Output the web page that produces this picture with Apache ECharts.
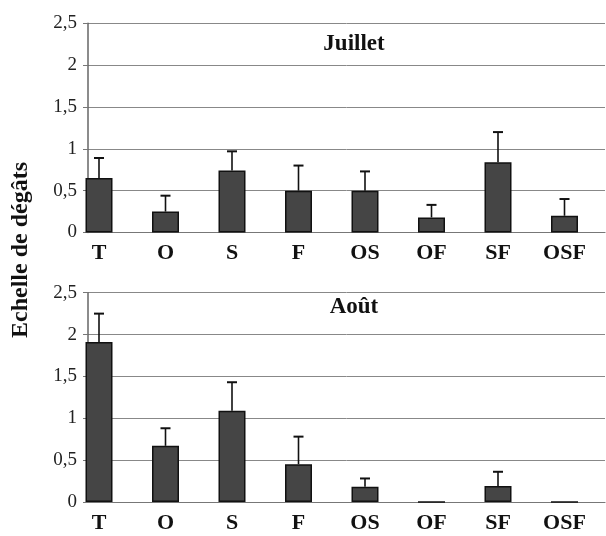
<!DOCTYPE html>
<html><head><meta charset="utf-8">
<script src="https://cdn.jsdelivr.net/npm/echarts@6/dist/echarts.min.js"></script>
<style>html,body{margin:0;padding:0;background:#fff}#c{width:606px;height:536px}</style>
</head><body><div id="c"></div>
<script>
const categories = ['T','O','S','F','OS','OF','SF','OSF'];
const julyMeans = [0.65, 0.25, 0.74, 0.50, 0.50, 0.18, 0.84, 0.20];
const julyUpper = [0.89, 0.44, 0.97, 0.80, 0.73, 0.33, 1.20, 0.40];
const augMeans  = [1.91, 0.67, 1.09, 0.45, 0.18, 0, 0.19, 0];
const augUpper  = [2.25, 0.88, 1.43, 0.78, 0.28, 0, 0.36, 0];
const panelTitles = ['Juillet', 'Août'];
const yName = 'Echelle de dégâts';

const serif = '"Liberation Serif", "Times New Roman", serif';
const chart = echarts.init(document.getElementById('c'));

const panels = [
  {top: 23.3, means: julyMeans, upper: julyUpper, titleY: 42},
  {top: 292.7, means: augMeans, upper: augUpper, titleY: 305}
];
const H = 209.2;
const grids = [], xAxes = [], yAxes = [], series = [], titles = [];
panels.forEach((p, k) => {
  grids.push({left: 88, right: 1, top: p.top, height: H});
  grids.push({left: 65.75, right: 8.25, top: p.top, height: H});
  const gf = 2*k, gb = 2*k+1;
  xAxes.push({gridIndex: gf, type: 'value', min: 0, max: 1, show: true,
    axisLine: {show: true, lineStyle: {color: '#777', width: 1.2}},
    axisTick: {show: false}, axisLabel: {show: false}, splitLine: {show: false}});
  xAxes.push({gridIndex: gb, type: 'category', data: categories, boundaryGap: true,
    axisLine: {show: false}, axisTick: {show: false},
    axisLabel: {margin: 10, fontFamily: serif, fontWeight: 'bold', fontSize: 22, color: '#111'}});
  yAxes.push({gridIndex: gf, type: 'value', min: 0, max: 2.5, interval: 0.5,
    axisLine: {show: true, lineStyle: {color: '#666', width: 1.5}},
    axisTick: {show: true, inside: false, length: 5, lineStyle: {color: '#777'}},
    axisLabel: {margin: 11, fontFamily: serif, fontSize: 19, color: '#222',
      formatter: v => String(v).replace('.', ',')},
    splitLine: {show: true, lineStyle: {color: '#888', width: 1}}});
  yAxes.push({gridIndex: gb, type: 'value', min: 0, max: 2.5, interval: 0.5, show: false,
    splitLine: {show: false}});
  series.push({type: 'bar', xAxisIndex: gb, yAxisIndex: gb, data: p.means,
    barWidth: 27, itemStyle: {color: '#454545', borderColor: '#111', borderWidth: 1.5}, z: 3});
  const ebData = p.means.map((m, i) => [i, m, p.upper[i]]);
  series.push({type: 'custom', xAxisIndex: gb, yAxisIndex: gb, data: ebData, z: 2,
    renderItem: (params, api) => {
      const lo = api.value(1), hi = api.value(2);
      if (!(hi > lo)) return null;
      const a = api.coord([api.value(0), lo]);
      const b = api.coord([api.value(0), hi]);
      return {type: 'group', children: [
        {type: 'line', shape: {x1: a[0], y1: a[1], x2: b[0], y2: b[1]}, style: {stroke: '#111', lineWidth: 1.6}},
        {type: 'line', shape: {x1: b[0]-5, y1: b[1], x2: b[0]+5, y2: b[1]}, style: {stroke: '#111', lineWidth: 2}}
      ]};
    }});
  titles.push({text: panelTitles[k], left: 349, textAlign: 'center', top: p.titleY - 14,
    textStyle: {fontFamily: serif, fontWeight: 'bold', fontSize: 23, color: '#111'}});
});

chart.setOption({
  animation: false,
  backgroundColor: '#fff',
  title: titles,
  grid: grids, xAxis: xAxes, yAxis: yAxes, series: series,
  graphic: [{type: 'text', x: 21, y: 250, rotation: Math.PI/2,
    style: {text: yName, font: 'bold 24px ' + serif, fill: '#111', align: 'center', verticalAlign: 'middle'}}]
});
</script></body></html>
